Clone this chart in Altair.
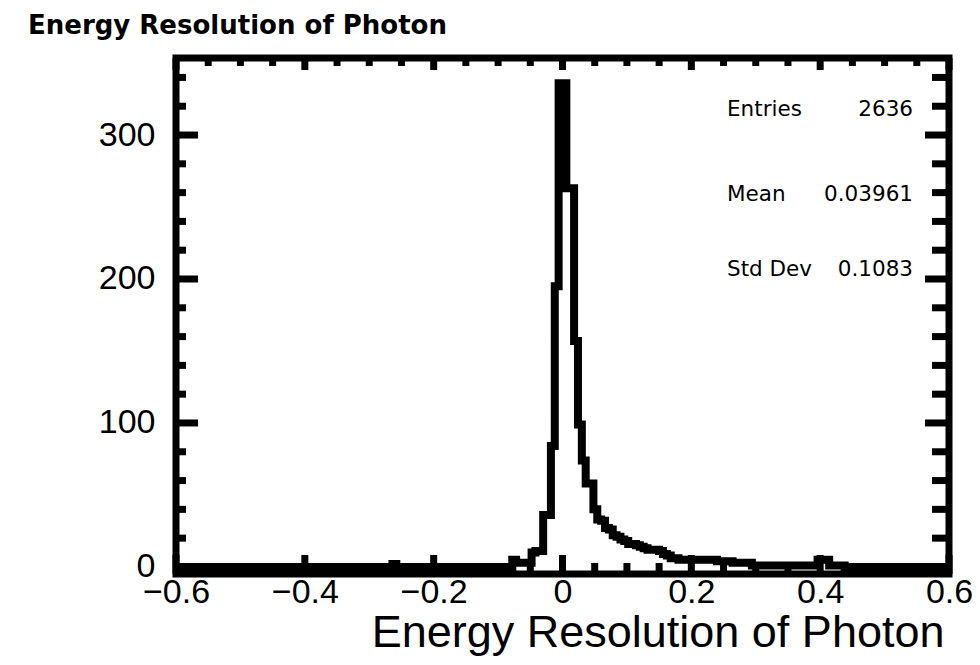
import altair as alt
import pandas as pd

# ---------------- data ----------------
X_MIN, X_MAX = -0.6, 0.6
BIN_WIDTH = 0.006

COUNTS = [
    0, 0, 0, 0, 0, 0, 0, 0, 0, 0, 0, 0, 0, 0, 0, 0, 0, 0, 0, 0,
    0, 0, 0, 0, 0, 0, 0, 0, 0, 0, 0, 0, 0, 0, 0, 0, 0, 0, 0, 0,
    0, 0, 0, 0, 0, 0, 0, 0, 0, 0, 0, 0, 0, 0, 0, 0, 2, 0, 0, 0,
    0, 0, 0, 0, 0, 0, 0, 0, 0, 0, 0, 0, 0, 0, 0, 0, 0, 0, 0, 0,
    0, 0, 0, 0, 0, 0, 0, 5, 3, 3, 3, 3, 10, 11, 11, 36, 36, 84, 195, 336,
    336, 263, 263, 157, 99, 74, 58, 58, 40, 33, 32, 27, 26, 22, 21, 19, 18, 16, 16, 15,
    14, 13, 12, 12, 12, 11, 9, 8, 6, 6, 5, 5, 5, 5, 5, 5, 5, 5, 5, 5,
    4, 4, 4, 4, 3, 3, 3, 3, 3, 1, 1, 1, 1, 1, 1, 1, 1, 1, 1, 1,
    1, 1, 1, 1, 1, 1, 5, 5, 5, 1, 1, 1, 1, 0, 0, 0, 0, 0, 0, 0,
    0, 0, 0, 0, 0, 0, 0, 0, 0, 0, 0, 0, 0, 0, 0, 0, 0, 0, 0, 0,
]

Y_MAJOR = [0, 100, 200, 300]
Y_MINOR = [20, 40, 60, 80, 120, 140, 160, 180, 220, 240, 260, 280, 320, 340]
X_MAJOR = [-0.6, -0.4, -0.2, 0.0, 0.2, 0.4, 0.6]
X_MINOR = [-0.55, -0.5, -0.45, -0.35, -0.3, -0.25, -0.15, -0.1, -0.05,
           0.05, 0.1, 0.15, 0.25, 0.3, 0.35, 0.45, 0.5, 0.55]

STAT_NAMES = ["Entries", "Mean", "Std Dev"]
STAT_VALUES = ["2636", "0.03961", "0.1083"]

TITLE = "Energy Resolution of Photon"
X_TITLE = "Energy Resolution of Photon"

# ---------------- layout ----------------
W, H = 773, 516
Y_DOMAIN = [-4.9, 353.5]
LINE_W = 8
FRAME_W = 7
STAT_ROW_Y = [52, 137, 212]
STAT_LABEL_X = 551
STAT_VALUE_X = 737

hist = pd.DataFrame({
    "x": [X_MIN + BIN_WIDTH * (i + 0.5) for i in range(len(COUNTS))],
    "n": COUNTS,
})

x_scale = alt.Scale(domain=[X_MIN, X_MAX], nice=False, zero=False)
y_scale = alt.Scale(domain=Y_DOMAIN, nice=False, zero=False)

x_axis = alt.Axis(
    values=X_MAJOR, ticks=False, tickSize=0, domain=False, grid=False,
    labelExpr="abs(datum.value) < 1e-9 ? '0' : format(datum.value, '.1f')",
    labelFont="Liberation Sans", labelFontSize=34, labelColor="black",
    labelPadding=28, labelBaseline="alphabetic", labelFlush=False,
    labelOverlap=False, labelBound=False,
    title=X_TITLE, titleFont="Liberation Sans", titleFontSize=45,
    titleFontWeight="normal", titleColor="black", titleAnchor="end",
    titleAlign="right", titleBaseline="alphabetic", titleX=W - 5, titleY=72,
)
y_axis = alt.Axis(
    values=Y_MAJOR, ticks=False, tickSize=0, domain=False, grid=False,
    labelFont="Liberation Sans", labelFontSize=34, labelColor="black",
    labelPadding=21, labelFlush=False, labelOverlap=False, labelBound=False,
    title=None,
)

line = alt.Chart(hist).mark_line(
    interpolate="step", color="black", strokeWidth=LINE_W
).encode(
    x=alt.X("x:Q", scale=x_scale, axis=x_axis),
    y=alt.Y("n:Q", scale=y_scale, axis=y_axis),
)


def y_ticks(values, length, right):
    df = pd.DataFrame({"v": values})
    xpos = W - length / 2 if right else length / 2
    return alt.Chart(df).mark_tick(
        orient="horizontal", size=length, thickness=FRAME_W, color="black", opacity=1
    ).encode(y=alt.Y("v:Q", scale=y_scale, axis=y_axis), x=alt.value(xpos))


def x_ticks(values, length, top):
    df = pd.DataFrame({"v": values})
    ypos = length / 2 if top else H - length / 2
    return alt.Chart(df).mark_tick(
        orient="vertical", size=length, thickness=FRAME_W, color="black", opacity=1
    ).encode(x=alt.X("v:Q", scale=x_scale, axis=x_axis), y=alt.value(ypos))


layers = [
    line,
    y_ticks(Y_MAJOR, 22, False), y_ticks(Y_MINOR, 10, False),
    y_ticks(Y_MAJOR, 24, True), y_ticks(Y_MINOR, 17, True),
    x_ticks(X_MAJOR, 19, False), x_ticks(X_MINOR, 11, False),
    x_ticks(X_MAJOR, 12, True), x_ticks(X_MINOR, 8, True),
]

for i in range(len(STAT_NAMES)):
    lab = pd.DataFrame({"t": [STAT_NAMES[i]]})
    val = pd.DataFrame({"t": [STAT_VALUES[i]]})
    layers.append(alt.Chart(lab).mark_text(
        align="left", baseline="middle", font="DejaVu Sans", fontSize=21.5, color="black"
    ).encode(text="t:N", x=alt.value(STAT_LABEL_X), y=alt.value(STAT_ROW_Y[i])))
    layers.append(alt.Chart(val).mark_text(
        align="right", baseline="middle", font="DejaVu Sans", fontSize=21.5, color="black"
    ).encode(text="t:N", x=alt.value(STAT_VALUE_X), y=alt.value(STAT_ROW_Y[i])))

chart = alt.layer(*layers).properties(
    width=W, height=H,
    autosize=alt.AutoSizeParams(type="none"),
    padding={"left": 168, "top": 50, "right": 23, "bottom": 85},
    title=alt.TitleParams(
        text=TITLE, anchor="start", frame="group", dx=-148, dy=4,
        font="DejaVu Sans", fontSize=26, fontWeight="bold", color="black",
        baseline="alphabetic", offset=2,
    ),
    background="white",
).configure_view(stroke="black", strokeWidth=FRAME_W)

chart.save("out.html", embed_options={"renderer": "svg", "actions": False})
